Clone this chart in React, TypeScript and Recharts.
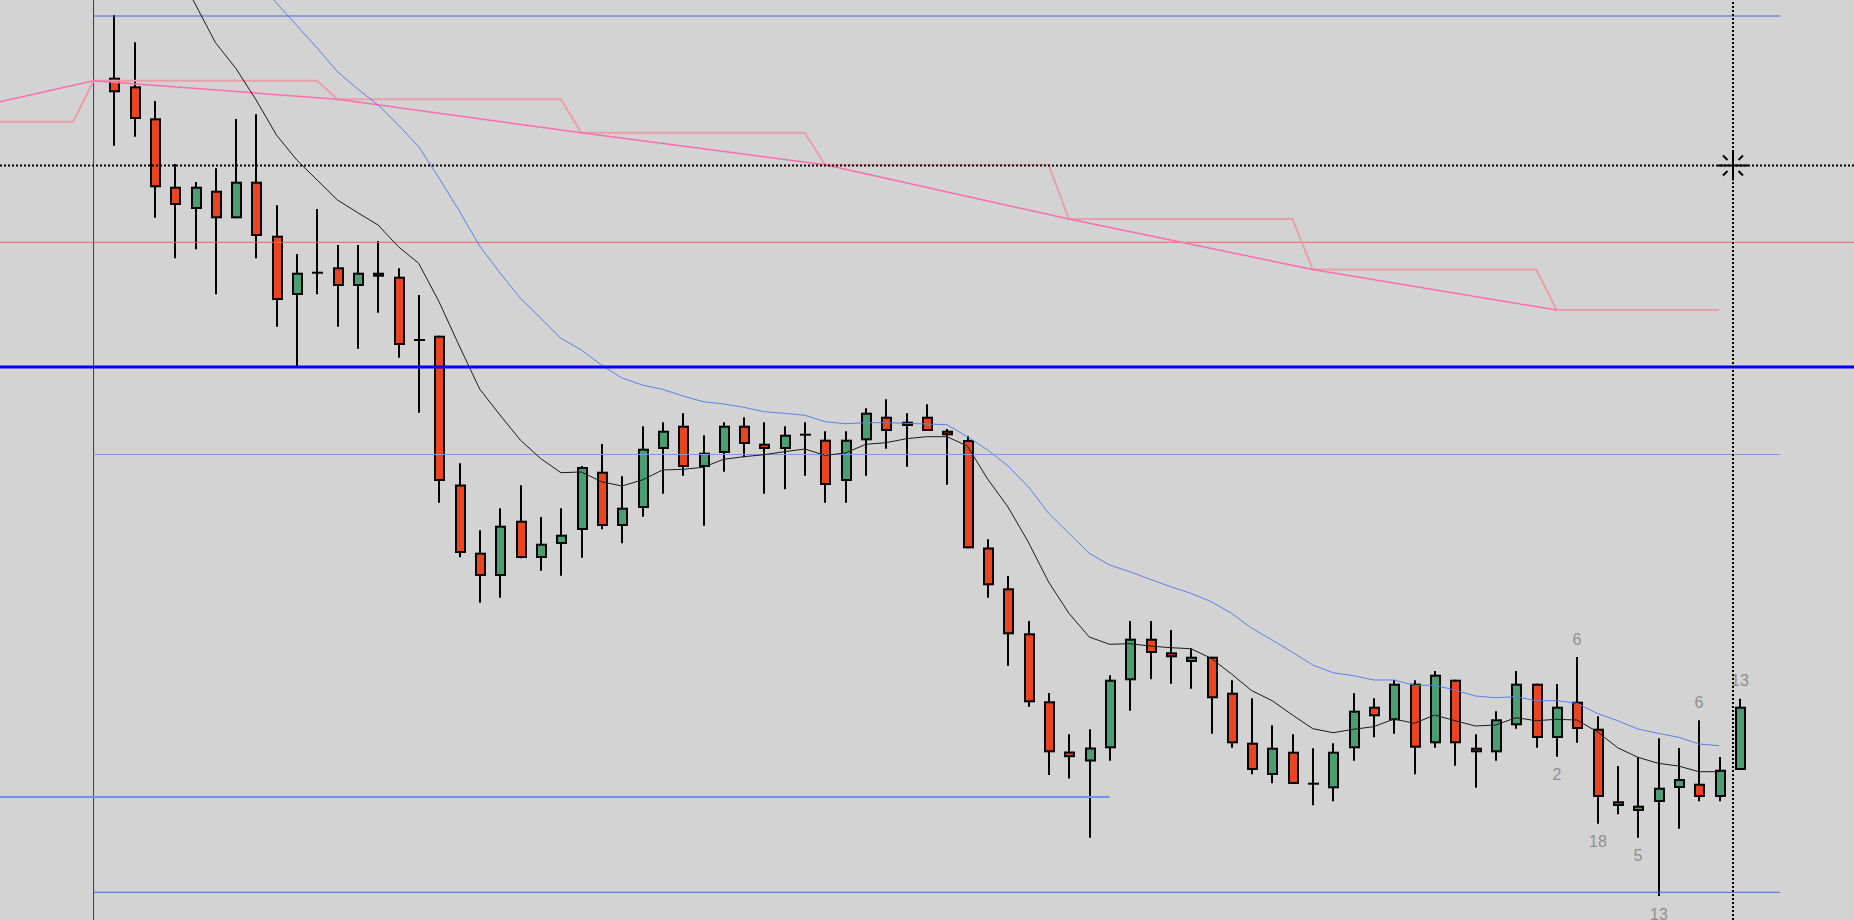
import { ComposedChart, Bar, Line, XAxis, YAxis, ReferenceLine, ReferenceDot } from 'recharts';

// candle prices, index 0..80
const opens = [
  192.23, 191.37, 188.17, 181.33, 179.1, 180.93, 178.17, 181.83, 176.43, 170.5,
  172.73, 173.27, 171.4, 172.73, 172.33, 166.0, 166.43, 151.55, 144.73, 142.4,
  147.93, 144.2, 145.6, 147.0, 152.83, 147.4, 149.2, 155.1, 157.43, 153.3,
  154.7, 157.43, 155.63, 155.1, 156.53, 156.03, 151.9, 155.97, 158.33, 157.4,
  158.33, 156.93, 156.0, 145.25, 141.17, 136.67, 129.87, 124.85, 123.85, 125.17,
  131.97, 136.13, 134.77, 133.8, 134.33, 130.73, 125.73, 122.5, 124.83, 121.63,
  121.17, 125.17, 129.33, 127.97, 131.63, 125.67, 132.03, 125.23, 124.77, 127.47,
  131.63, 126.2, 129.83, 127.13, 119.87, 118.9, 119.8, 121.2, 121.63, 120.3,
  123.0,
];
const highs = [
  198.5, 195.77, 189.9, 183.6, 181.8, 183.17, 188.1, 188.57, 179.47, 174.6,
  179.1, 175.5, 175.5, 175.9, 173.17, 170.5, 166.43, 153.67, 146.97, 149.17,
  151.47, 148.3, 149.17, 153.4, 155.6, 152.37, 157.37, 157.77, 158.67, 156.47,
  157.77, 158.27, 157.77, 157.37, 157.77, 156.87, 156.87, 159.17, 160.07, 158.67,
  159.57, 157.1, 156.4, 146.08, 142.4, 137.9, 130.7, 126.57, 127.07, 132.47,
  137.9, 137.9, 137.0, 135.17, 134.33, 131.97, 130.17, 127.47, 126.57, 125.17,
  125.67, 130.67, 130.17, 132.0, 131.97, 132.9, 132.03, 126.57, 128.87, 132.9,
  131.63, 131.6, 134.3, 128.37, 123.4, 124.3, 126.17, 125.2, 127.97, 124.3,
  130.13,
];
const lows = [
  185.43, 186.33, 178.23, 174.17, 175.07, 170.57, 178.17, 174.17, 167.33, 163.33,
  170.57, 167.33, 165.13, 168.73, 164.23, 158.73, 149.73, 144.27, 139.73, 140.23,
  144.17, 142.93, 142.43, 144.23, 147.07, 145.67, 148.33, 150.63, 152.43, 147.43,
  152.83, 154.27, 150.63, 151.07, 152.43, 149.73, 149.73, 152.43, 155.13, 153.33,
  156.9, 151.53, 145.17, 140.23, 133.43, 129.33, 122.5, 122.15, 116.23, 123.93,
  128.93, 132.07, 131.63, 131.13, 126.63, 125.23, 122.57, 121.67, 121.6, 119.47,
  119.87, 123.93, 126.27, 126.63, 122.57, 125.23, 123.43, 121.23, 123.93, 127.13,
  125.23, 124.33, 125.73, 117.63, 118.57, 116.23, 110.4, 117.13, 119.87, 119.87,
  123.0,
];
const closes = [
  190.77, 188.1, 181.27, 179.5, 181.33, 178.17, 181.83, 176.4, 170.0, 172.73,
  172.73, 171.4, 172.73, 172.33, 165.5, 166.0, 151.9, 144.7, 142.4, 147.43,
  144.2, 145.63, 146.53, 153.3, 147.4, 149.23, 155.13, 156.93, 153.3, 154.73,
  157.43, 155.6, 155.1, 156.53, 156.53, 151.5, 156.03, 158.73, 156.9, 157.83,
  156.9, 156.47, 145.17, 141.47, 136.57, 129.77, 124.77, 124.28, 125.25, 132.03,
  136.13, 134.7, 134.27, 134.33, 130.17, 125.67, 123.0, 125.23, 121.6, 121.63,
  124.83, 128.93, 128.37, 131.63, 125.23, 132.53, 125.67, 124.77, 128.07, 131.63,
  126.2, 129.33, 127.1, 120.3, 119.4, 119.43, 121.23, 122.1, 120.3, 123.03,
  129.33,
];

// count labels printed next to the last candles
const countLabels = [
  { i: 71, text: '2', side: 'below' },
  { i: 72, text: '6', side: 'above' },
  { i: 73, text: '18', side: 'below' },
  { i: 75, text: '5', side: 'below' },
  { i: 76, text: '13', side: 'below' },
  { i: 78, text: '6', side: 'above' },
  { i: 80, text: '13', side: 'above' },
];

// moving averages
const fastMaStart = 3;
const fastMa = [
  203.5, 199.6, 195.73, 193.17, 190.0, 186.5, 184.0, 182.0, 180.0, 178.73,
  177.5, 175.33, 173.67, 169.83, 165.4, 161.1, 158.5, 156.0, 154.15, 152.73,
  152.8, 151.83, 151.4, 152.0, 153.0, 153.07, 153.27, 154.07, 154.33, 154.53,
  154.83, 155.1, 154.47, 154.7, 155.57, 155.73, 156.13, 156.33, 156.33, 155.4,
  152.1, 149.3, 145.8, 141.8, 138.67, 136.3, 135.57, 135.63, 135.4, 135.23,
  135.13, 134.17, 132.6, 130.93, 129.93, 128.5, 127.13, 126.73, 127.07, 127.33,
  128.1, 127.67, 128.5, 127.93, 127.4, 127.5, 128.23, 127.93, 128.07, 128.0,
  126.83, 125.23, 124.27, 123.67, 123.4, 122.83, 122.83,
];
const slowMaStart = 7;
const slowMa = [
  202.0, 199.7, 197.45, 195.2, 192.83, 191.1, 189.5, 187.5, 185.33, 182.2,
  178.9, 175.4, 172.7, 170.2, 168.2, 166.17, 165.0, 163.5, 162.2, 161.5,
  161.07, 160.4, 159.83, 159.6, 159.27, 158.83, 158.67, 158.47, 157.83, 157.63,
  157.73, 157.73, 157.67, 157.6, 157.53, 156.33, 155.0, 153.4, 151.33, 148.67,
  146.67, 144.67, 143.5, 142.83, 142.07, 141.33, 140.67, 139.83, 138.67, 137.17,
  136.0, 134.77, 133.5, 132.73, 132.43, 132.0, 132.0, 131.47, 131.47, 131.0,
  130.4, 130.23, 130.33, 129.93, 129.93, 129.67, 128.67, 127.93, 127.1, 126.67,
  126.27, 125.6, 125.43,
];

// higher timeframe level, one per 12-candle period
const periodStart = [-6, -1, 11, 23, 35, 47, 59, 71];
const periodEnd = [-2, 10, 22, 34, 46, 58, 70, 79];
const periodLevel = [187.83, 191.93, 190.07, 186.73, 183.53, 178.1, 173.05, 169.0];

// trend line through the period levels
const trendIdx = [-6, -1, 11, 23, 35, 47, 59, 71];
const trendVal = [189.65, 191.93, 190.07, 186.73, 183.53, 178.1, 173.05, 169.0];

// horizontal price levels
const levelTop = 198.4;
const levelRed = 175.77;
const levelMain = 163.3;
const levelMid = 154.55;
const levelLowLeft = 120.3;
const levelBottom = 110.77;
const markerIdx = -1;
const levelsEndIdx = 82;
const lowLeftEndIdx = 49;
const cursor = { i: 79.68, p: 183.45 };

const labelAt: Record<number, { text: string; side: string }> = {};
countLabels.forEach((l) => { labelAt[l.i] = l; });

const candles = opens.map((open, i) => ({
  i,
  open,
  high: highs[i],
  low: lows[i],
  close: closes[i],
  label: labelAt[i],
}));
const fastData = fastMa.map((v, k) => ({ i: fastMaStart + k, v }));
const slowData = slowMa.map((v, k) => ({ i: slowMaStart + k, v }));
const stepData = periodLevel.flatMap((v, k) => [
  { i: periodStart[k], v },
  { i: periodEnd[k], v },
]);
const trendData = trendIdx.map((i, k) => ({ i, v: trendVal[k] }));

const UP = '#4a9e72';
const DOWN = '#ea4520';

const Candle = (props: any) => {
  const { x, y, width, height, payload } = props;
  if (x == null || y == null) return null;
  const cx = Math.round(x + width / 2);
  const top = Math.min(y, y + height);
  const span = Math.abs(height);
  const range = payload.high - payload.low || 1;
  const toY = (p: number) => top + ((payload.high - p) / range) * span;
  const yo = toY(payload.open);
  const yc = toY(payload.close);
  const bTop = Math.min(yo, yc);
  const bBot = Math.max(yo, yc);
  const up = payload.close >= payload.open;
  const lab = payload.label;
  return (
    <g>
      <line x1={cx} x2={cx} y1={top} y2={top + span} stroke="#000" strokeWidth={2} />
      {bBot - bTop < 2.5 ? (
        <line x1={cx - 5} x2={cx + 6} y1={(bTop + bBot) / 2} y2={(bTop + bBot) / 2} stroke="#000" strokeWidth={2} />
      ) : (
        <rect x={cx - 4} y={bTop + 1} width={9} height={bBot - bTop - 2} fill={up ? UP : DOWN} stroke="#000" strokeWidth={2} />
      )}
      {lab && (
        <text
          x={cx}
          y={lab.side === 'above' ? top - 18 : top + span + 18}
          dy="0.35em"
          textAnchor="middle"
          fill="#8e8e8e"
          fontSize={16}
          fontFamily="'Liberation Sans', Arial, sans-serif"
        >
          {lab.text}
        </text>
      )}
    </g>
  );
};

const Cursor = (props: any) => {
  const { cx, cy } = props;
  if (cx == null || cy == null) return null;
  return (
    <g stroke="#000" strokeWidth={2}>
      <line x1={cx - 15} x2={cx + 15} y1={cy} y2={cy} />
      <line x1={cx} x2={cx} y1={cy - 15} y2={cy + 15} />
      <line x1={cx - 10} y1={cy - 10} x2={cx - 5.5} y2={cy - 5.5} />
      <line x1={cx + 10} y1={cy - 10} x2={cx + 5.5} y2={cy - 5.5} />
      <line x1={cx - 10} y1={cy + 10} x2={cx - 5.5} y2={cy + 5.5} />
      <line x1={cx + 10} y1={cy + 10} x2={cx + 5.5} y2={cy + 5.5} />
    </g>
  );
};

export default function App() {
  return (
    <div style={{ width: 1854, height: 920, background: '#d3d3d3', overflow: 'hidden' }}>
      <style>{'body{margin:0}'}</style>
      <ComposedChart width={1854} height={920} data={candles} margin={{ top: 0, right: 0, bottom: 0, left: 0 }}>
        <XAxis dataKey="i" type="number" domain={[-5.605, 85.635]} allowDataOverflow hide />
        <YAxis type="number" domain={[108, 200]} allowDataOverflow hide />
        <ReferenceLine x={markerIdx} stroke="#3c3c3c" strokeWidth={1} />
        <ReferenceLine segment={[{ x: markerIdx, y: levelTop }, { x: levelsEndIdx, y: levelTop }]} stroke="#4169e1" strokeWidth={1} />
        <ReferenceLine y={levelRed} stroke="#ef6262" strokeWidth={1} />
        <ReferenceLine segment={[{ x: markerIdx, y: levelMid }, { x: levelsEndIdx, y: levelMid }]} stroke="#7c98ee" strokeWidth={1} />
        <ReferenceLine segment={[{ x: -5.605, y: levelLowLeft }, { x: lowLeftEndIdx, y: levelLowLeft }]} stroke="#6a96ee" strokeWidth={2} />
        <ReferenceLine segment={[{ x: markerIdx, y: levelBottom }, { x: levelsEndIdx, y: levelBottom }]} stroke="#4169e1" strokeWidth={1} />
        <Bar dataKey={(d: any) => [d.low, d.high]} barSize={11} shape={<Candle />} isAnimationActive={false} />
        <Line data={stepData} dataKey="v" type="linear" stroke="#e9a0a6" strokeWidth={2} dot={false} isAnimationActive={false} />
        <Line data={trendData} dataKey="v" type="linear" stroke="#fb6cb0" strokeWidth={1.5} dot={false} isAnimationActive={false} />
        <Line data={slowData} dataKey="v" type="linear" stroke="#5a80e8" strokeWidth={1} dot={false} isAnimationActive={false} />
        <Line data={fastData} dataKey="v" type="linear" stroke="#1a1a1a" strokeWidth={1} dot={false} isAnimationActive={false} />
        <ReferenceLine y={levelMain} stroke="#0000ff" strokeWidth={3} />
        <ReferenceLine y={cursor.p} stroke="#000" strokeWidth={2} strokeDasharray="2 2" />
        <ReferenceLine x={cursor.i} stroke="#000" strokeWidth={2} strokeDasharray="2 2" />
        <ReferenceDot x={cursor.i} y={cursor.p} r={0} shape={<Cursor />} />
      </ComposedChart>
    </div>
  );
}
